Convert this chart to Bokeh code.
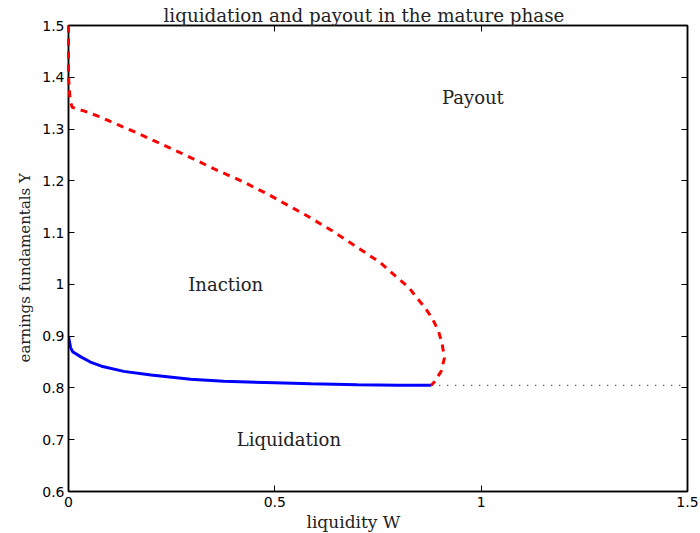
from bokeh.plotting import figure
from bokeh.models import LinearAxis, FixedTicker, Range1d, ColumnDataSource, Title
from bokeh.core.properties import value
from bokeh.embed import file_html
from bokeh.resources import INLINE

# liquidation boundary (solid blue)
blue_w = [0.0, 0.005, 0.01, 0.03, 0.053, 0.08, 0.134, 0.2, 0.296, 0.376, 0.5, 0.587, 0.7, 0.8, 0.879]
blue_y = [0.900, 0.878, 0.870, 0.860, 0.850, 0.842, 0.832, 0.825, 0.817, 0.813, 0.810, 0.808, 0.806, 0.805, 0.805]

# payout boundary (dashed red)
red_w = [0.0, 0.0, 0.0, 0.004, 0.009, 0.037, 0.078, 0.118, 0.159, 0.211, 0.280, 0.353, 0.421,
         0.486, 0.522, 0.579, 0.640, 0.697, 0.754, 0.798, 0.825, 0.842, 0.862, 0.881, 0.896,
         0.905, 0.911, 0.903, 0.887, 0.879]
red_y = [1.5, 1.45, 1.40, 1.355, 1.342, 1.335, 1.323, 1.309, 1.295, 1.276, 1.251, 1.223, 1.199,
         1.173, 1.157, 1.132, 1.103, 1.073, 1.043, 1.012, 0.994, 0.976, 0.957, 0.935, 0.911,
         0.887, 0.858, 0.832, 0.812, 0.805]

# dotted continuation
dot_w = [0.879, 1.5]
dot_y = [0.805, 0.805]

x_ticks = [0, 0.5, 1, 1.5]
x_tick_labels = ["0", "0.5", "1", "1.5"]
y_ticks = [0.6, 0.7, 0.8, 0.9, 1.0, 1.1, 1.2, 1.3, 1.4, 1.5]
y_tick_labels = ["0.6", "0.7", "0.8", "0.9", "1", "1.1", "1.2", "1.3", "1.4", "1.5"]

region_names = ["Payout", "Inaction", "Liquidation"]
region_w = [0.98, 0.381, 0.534]
region_y = [1.36, 1.0, 0.70]

title_text = "liquidation and payout in the mature phase"
x_label_text = "liquidity W"
y_label_text = "earnings fundamentals Y"

SERIF = "DejaVu Serif"
SANS = "DejaVu Sans"
TXT = "#222222"

p = figure(width=700, height=533, output_backend="svg", toolbar_location=None,
           x_range=Range1d(0, 1.5), y_range=Range1d(0.6, 1.5),
           title=title_text,
           min_border_left=68, min_border_right=13, min_border_top=25, min_border_bottom=42)

p.title.align = "left"
p.title.offset = 95
p.title.text_font = SERIF
p.title.text_font_style = "normal"
p.title.text_font_size = "18.3px"
p.title.text_color = TXT
p.title.standoff = 0

p.xgrid.visible = False
p.ygrid.visible = False
p.outline_line_color = "black"
p.outline_line_width = 1.5
p.background_fill_color = "white"
p.border_fill_color = "white"

def style_axis(ax, ticks, labels, show_labels=True):
    ax.ticker = FixedTicker(ticks=ticks, minor_ticks=[])
    if show_labels:
        ax.major_label_overrides = {t: l for t, l in zip(ticks, labels)}
    else:
        ax.major_label_overrides = {t: "" for t in ticks}
    ax.major_tick_in = 6
    ax.major_tick_out = 0
    ax.minor_tick_in = 0
    ax.minor_tick_out = 0
    ax.axis_line_color = "black"
    ax.axis_line_width = 1.5
    ax.major_tick_line_color = "black"
    ax.major_label_text_font = SANS
    ax.major_label_text_font_size = "14px" if show_labels else "1px"
    ax.major_label_text_color = "black"
    ax.major_label_standoff = 4 if show_labels else 0

style_axis(p.xaxis[0], x_ticks, x_tick_labels)
style_axis(p.yaxis[0], y_ticks, y_tick_labels)
p.xaxis[0].major_label_standoff = 5

top_ax = LinearAxis()
style_axis(top_ax, x_ticks, x_tick_labels, show_labels=False)
p.add_layout(top_ax, "above")
right_ax = LinearAxis()
style_axis(right_ax, y_ticks, y_tick_labels, show_labels=False)
p.add_layout(right_ax, "right")

# axis labels as side titles (allow exact placement like the reference)
p.add_layout(Title(text=x_label_text, align="left", offset=238, standoff=0,
                   text_font=SERIF, text_font_style="normal", text_font_size="17px",
                   text_color=TXT), "below")
p.add_layout(Title(text=y_label_text, align="left", offset=129, standoff=11,
                   text_font=SERIF, text_font_style="normal", text_font_size="15px",
                   text_color=TXT), "left")

p.line(dot_w, dot_y, line_color="black", line_width=1, line_dash="1 7")
p.line(blue_w, blue_y, line_color="blue", line_width=3)
r = p.line(red_w, red_y, line_color="red", line_width=3, line_dash="7 6")
r.level = "overlay"

src = ColumnDataSource(dict(x=region_w, y=region_y, t=region_names))
p.text(x="x", y="y", text="t", source=src, text_align="center", text_baseline="middle",
       text_font=value(SERIF), text_font_size="18px", text_color=TXT)

open("out.html", "w").write(file_html(p, INLINE))
